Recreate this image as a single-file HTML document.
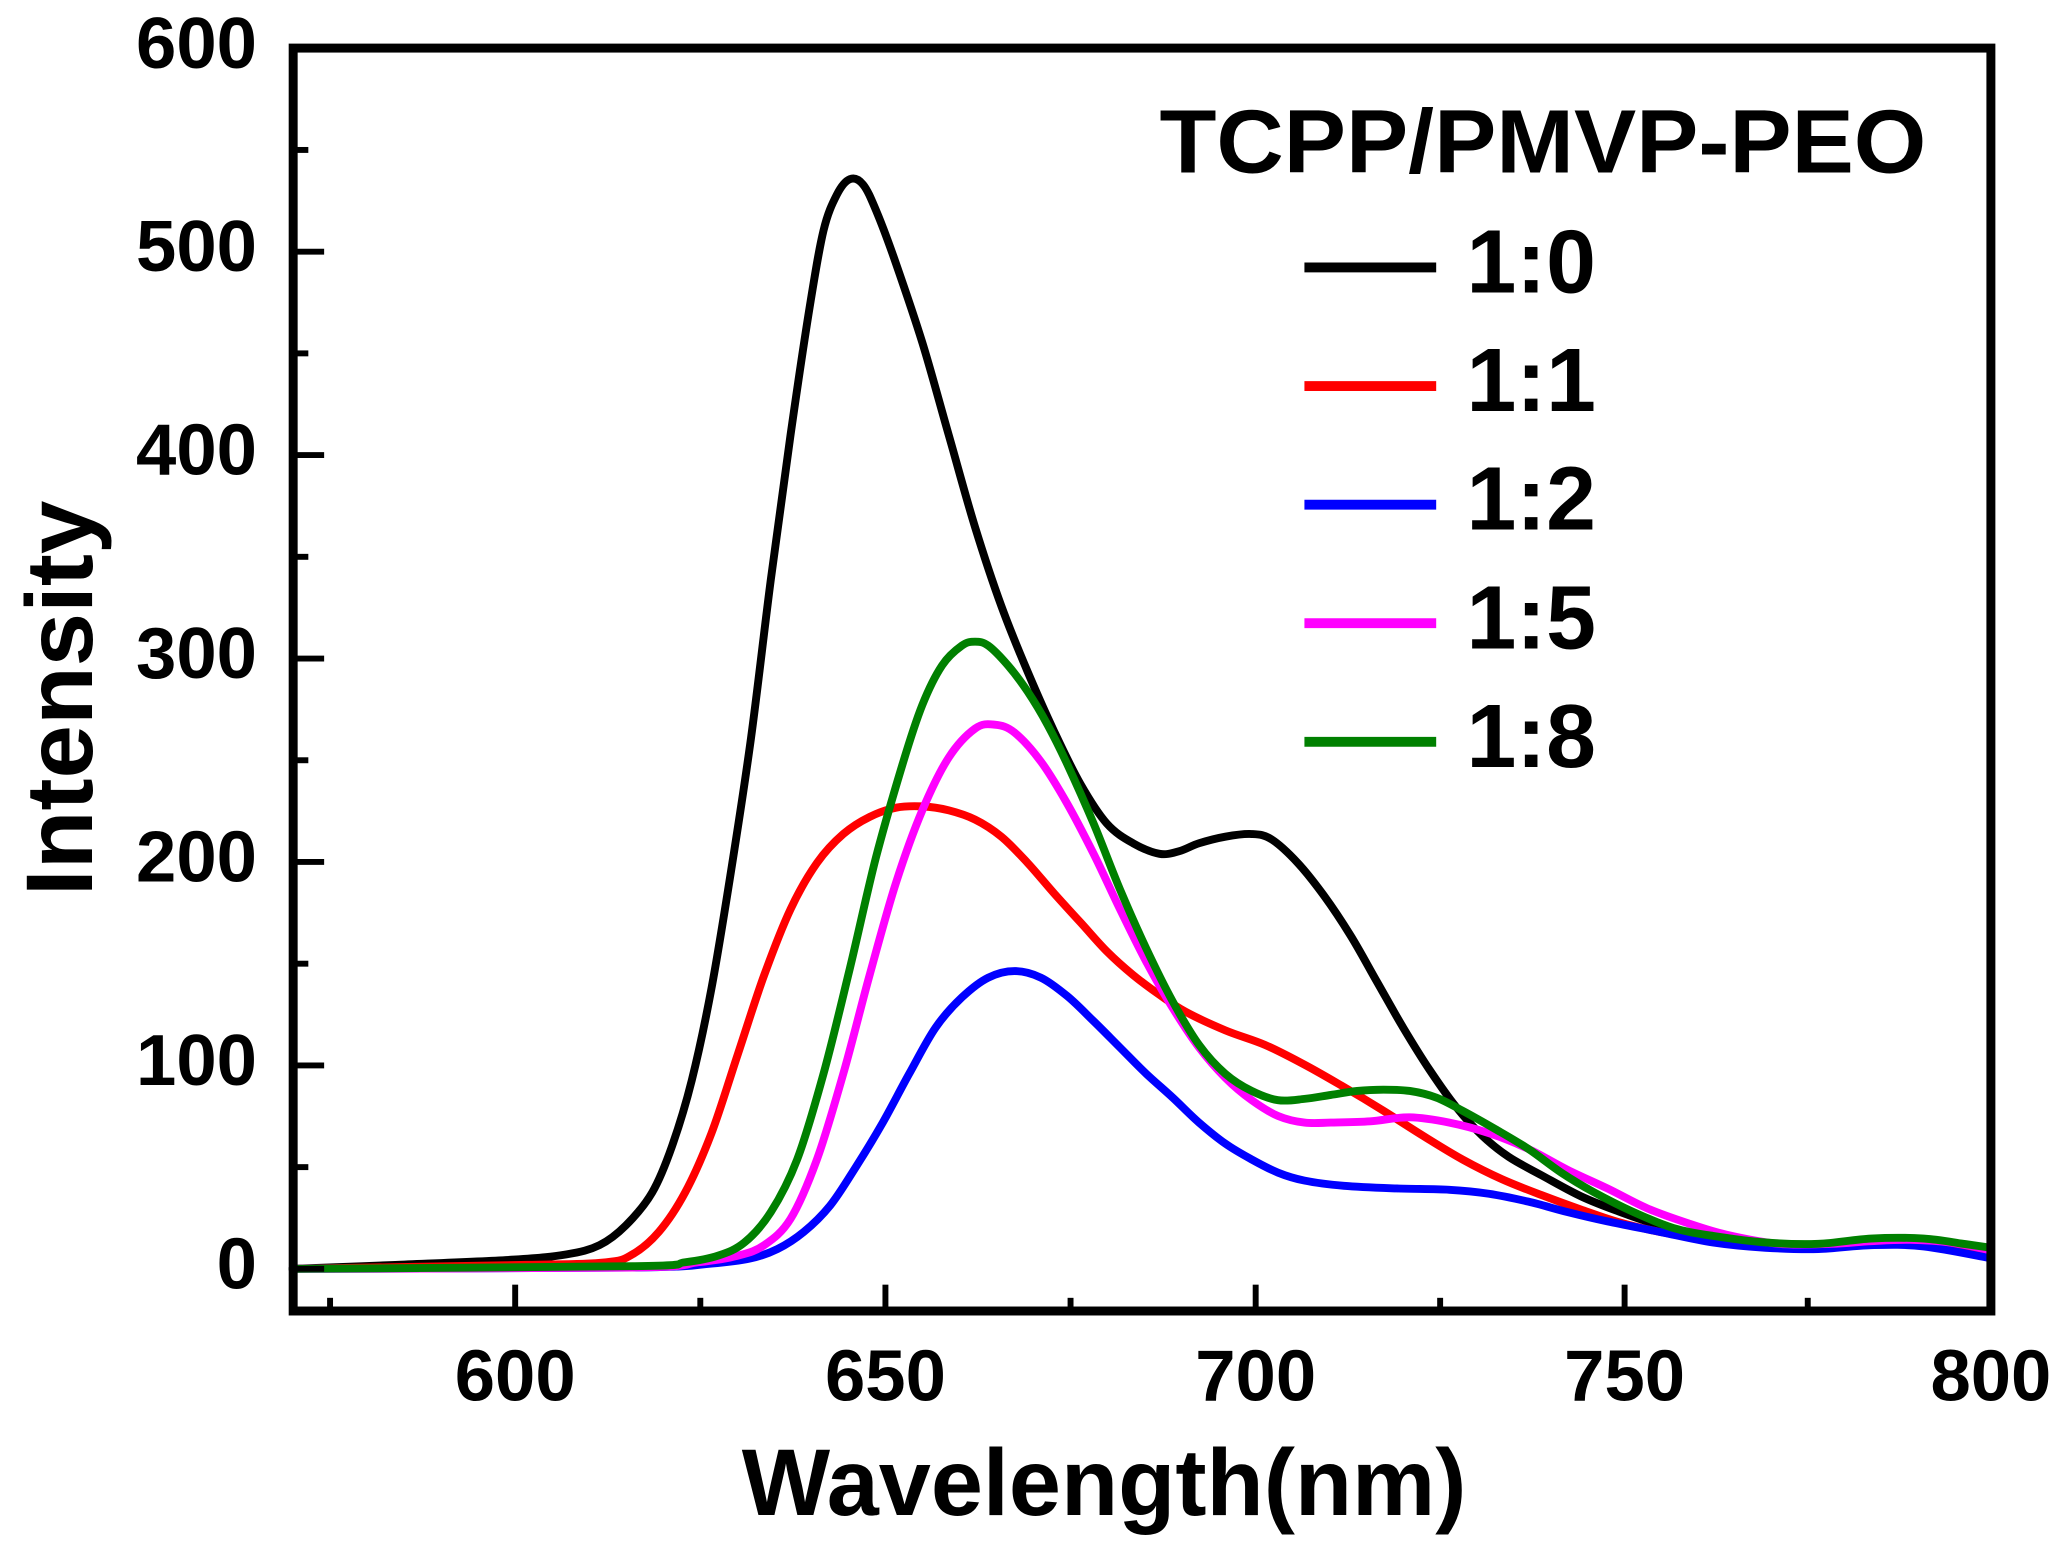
<!DOCTYPE html>
<html><head><meta charset="utf-8"><style>html,body{margin:0;padding:0;background:#fff}svg{display:block}</style></head>
<body>
<svg width="2066" height="1557" viewBox="0 0 1568 1181.7" xmlns="http://www.w3.org/2000/svg" font-family="Liberation Sans, Arial, sans-serif" font-weight="bold">
<rect x="0" y="0" width="1568" height="1181.7" fill="#fff"/>
<g id="curves" fill="none" stroke-width="6" stroke-linejoin="round" stroke-linecap="round">
<polyline stroke="#000" points="222,963 300,960 390,956 430,952 455,945 475,930 495,905 510,870 525,820 540,750 555,660 570,560 585,440 600,330 615,230 625,175 635,148 645,136 655,140 665,160 680,200 700,260 720,330 740,400 760,460 780,510 800,555 820,595 840,625 860,640 880,648 895,646 910,640 930,635 950,633 965,637 985,655 1005,680 1025,710 1045,745 1065,780 1085,812 1105,840 1125,862 1145,878 1170,892 1200,908 1230,920 1260,930 1300,939 1340,944 1380,945 1420,942 1460,943 1490,946 1511,950"/>
<polyline stroke="#ff0000" points="222,963 400,960 460,958 480,952 500,935 520,905 540,860 560,800 580,740 600,690 620,655 640,633 660,620 680,613 700,612 720,615 740,622 760,635 780,655 800,678 820,700 840,722 860,740 880,755 900,768 930,782 960,793 990,808 1020,825 1050,843 1080,862 1110,880 1140,895 1170,907 1200,918 1230,928 1260,935 1300,942 1340,945 1380,945 1420,944 1460,945 1511,950"/>
<polyline stroke="#0000ff" points="222,963 480,962 540,959 570,955 590,948 610,935 630,915 650,885 670,852 690,815 710,780 730,757 750,742 770,737 790,742 810,756 830,775 850,795 870,815 890,833 910,852 930,868 950,880 970,890 990,896 1020,900 1060,902 1100,903 1130,906 1160,912 1190,920 1220,927 1260,935 1300,943 1340,947 1380,948 1420,945 1460,946 1511,955"/>
<polyline stroke="#ff00ff" points="222,963 480,962 530,958 560,953 580,945 600,925 620,880 640,815 660,740 680,670 700,615 720,575 740,553 755,550 770,556 790,578 810,610 830,648 850,690 870,730 890,765 910,795 930,818 950,835 970,847 990,852 1010,852 1040,851 1070,848 1100,852 1130,860 1160,872 1190,888 1220,902 1250,917 1280,928 1310,937 1350,944 1390,944 1420,942 1450,941 1480,943 1511,949"/>
<polyline stroke="#008000" points="222,963 480,961 520,958 545,953 565,943 585,920 605,880 625,815 645,735 665,650 685,580 700,535 715,505 730,490 740,487 750,490 765,505 780,525 795,550 810,580 830,625 850,675 870,720 890,760 910,793 930,815 950,828 970,835 990,834 1010,831 1030,828 1050,827 1070,828 1090,833 1110,843 1135,857 1160,872 1185,890 1210,905 1240,920 1270,932 1300,938 1340,943 1380,944 1420,940 1460,940 1490,944 1511,947"/>
</g>
<rect x="222.5" y="36.5" width="1288.5" height="958.5" fill="none" stroke="#000" stroke-width="6.8"/>
<g stroke="#000" stroke-width="4.5">
<line x1="391" y1="995" x2="391" y2="975"/><line x1="672" y1="995" x2="672" y2="975"/><line x1="953" y1="995" x2="953" y2="975"/><line x1="1233" y1="995" x2="1233" y2="975"/>
<line x1="250.5" y1="995" x2="250.5" y2="985"/><line x1="531.5" y1="995" x2="531.5" y2="985"/><line x1="812.5" y1="995" x2="812.5" y2="985"/><line x1="1093" y1="995" x2="1093" y2="985"/><line x1="1372" y1="995" x2="1372" y2="985"/>
<line x1="222" y1="963" x2="246" y2="963"/><line x1="222" y1="808.6" x2="246" y2="808.6"/><line x1="222" y1="654.2" x2="246" y2="654.2"/><line x1="222" y1="499.8" x2="246" y2="499.8"/><line x1="222" y1="345.4" x2="246" y2="345.4"/><line x1="222" y1="191" x2="246" y2="191"/>
<line x1="222" y1="885.8" x2="234" y2="885.8"/><line x1="222" y1="731.4" x2="234" y2="731.4"/><line x1="222" y1="577" x2="234" y2="577"/><line x1="222" y1="422.6" x2="234" y2="422.6"/><line x1="222" y1="268.2" x2="234" y2="268.2"/><line x1="222" y1="113.8" x2="234" y2="113.8"/>
</g>
<g font-size="55" text-anchor="end">
<text x="195" y="978">0</text><text x="195" y="823.5">100</text><text x="195" y="669">200</text><text x="195" y="514.5">300</text><text x="195" y="360">400</text><text x="195" y="205.5">500</text><text x="195" y="51.5">600</text>
</g>
<g font-size="55" text-anchor="middle">
<text x="391" y="1063">600</text><text x="672" y="1063">650</text><text x="953" y="1063">700</text><text x="1233" y="1063">750</text><text x="1511" y="1063">800</text>
</g>
<text x="563" y="1150" font-size="72" textLength="550" lengthAdjust="spacingAndGlyphs">Wavelength(nm)</text>
<text transform="translate(70,530) rotate(-90)" x="0" y="0" font-size="72" text-anchor="middle" textLength="300" lengthAdjust="spacingAndGlyphs">Intensity</text>
<text x="880" y="131" font-size="68" textLength="582" lengthAdjust="spacingAndGlyphs">TCPP/PMVP-PEO</text>
<g stroke-width="7.5">
<line x1="990" y1="203" x2="1090" y2="203" stroke="#000"/>
<line x1="990" y1="293" x2="1090" y2="293" stroke="#ff0000"/>
<line x1="990" y1="383" x2="1090" y2="383" stroke="#0000ff"/>
<line x1="990" y1="473" x2="1090" y2="473" stroke="#ff00ff"/>
<line x1="990" y1="563" x2="1090" y2="563" stroke="#008000"/>
</g>
<g font-size="68">
<text x="1113" y="222">1:0</text><text x="1113" y="312">1:1</text><text x="1113" y="402">1:2</text><text x="1113" y="492">1:5</text><text x="1113" y="582">1:8</text>
</g>
</svg>
<script>
document.querySelectorAll('#curves polyline').forEach(function(pl){
  var p=pl.getAttribute('points').trim().split(/\s+/).map(function(s){return s.split(',').map(Number);});
  var d='M'+p[0][0]+','+p[0][1];
  for(var i=0;i<p.length-1;i++){
    var p0=p[i-1]||p[i],p1=p[i],p2=p[i+1],p3=p[i+2]||p2;
    var c1x=p1[0]+(p2[0]-p0[0])/6,c1y=p1[1]+(p2[1]-p0[1])/6;
    var c2x=p2[0]-(p3[0]-p1[0])/6,c2y=p2[1]-(p3[1]-p1[1])/6;
    d+=' C'+c1x.toFixed(1)+','+c1y.toFixed(1)+' '+c2x.toFixed(1)+','+c2y.toFixed(1)+' '+p2[0]+','+p2[1];
  }
  var path=document.createElementNS('http://www.w3.org/2000/svg','path');
  path.setAttribute('d',d);path.setAttribute('stroke',pl.getAttribute('stroke'));
  pl.parentNode.replaceChild(path,pl);
});
</script>
</body></html>
